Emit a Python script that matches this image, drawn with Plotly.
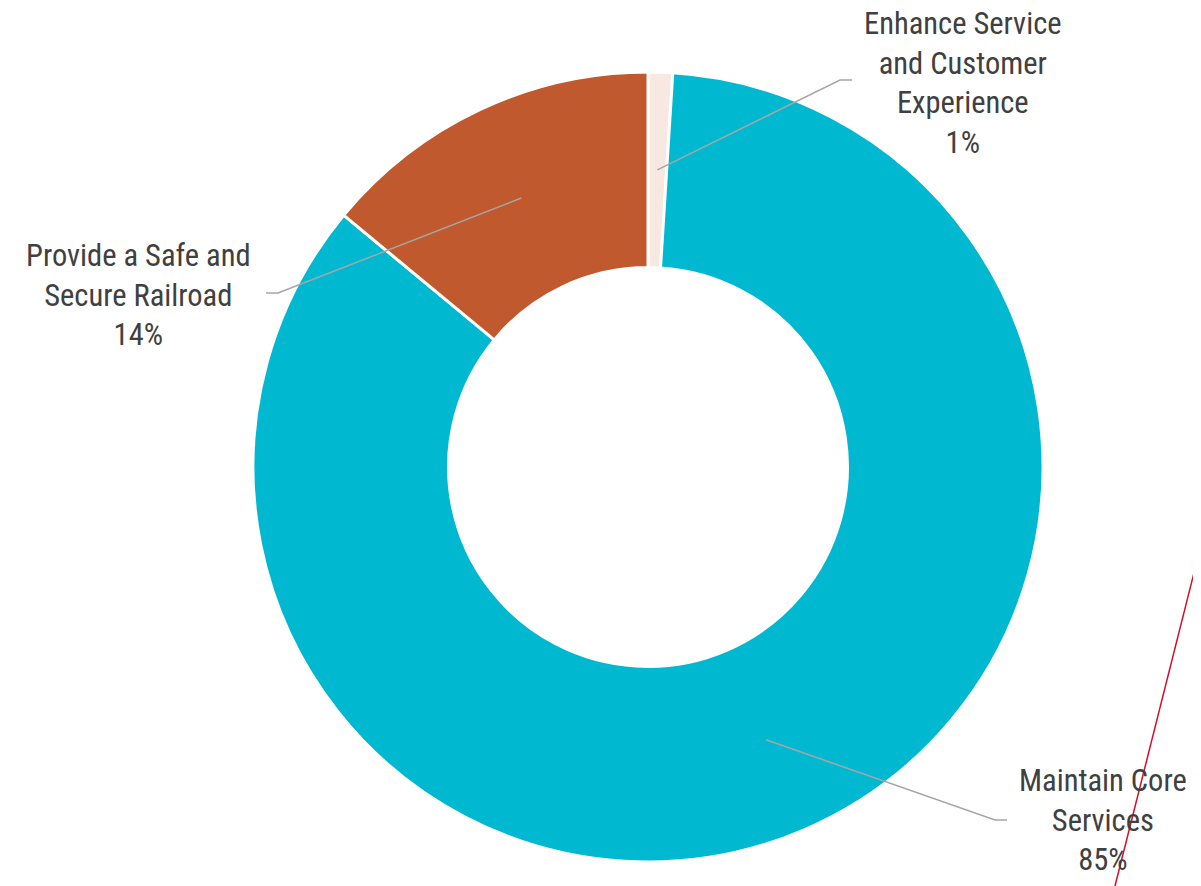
import math
import plotly.graph_objects as go

labels = ["Enhance Service and Customer Experience", "Maintain Core Services", "Provide a Safe and Secure Railroad"]
label_text = ["Enhance Service<br>and Customer<br>Experience<br>1%",
              "Maintain Core<br>Services<br>85%",
              "Provide a Safe and<br>Secure Railroad<br>14%"]
values = [1, 85, 14]
colors = ["#F7E8E2", "#00B9D1", "#C0592D"]

OFF = 8  # page body margin
W, H = 1201 - OFF, 886 - OFF

def px(x, y):
    return (x - OFF) / W, 1 - (y - OFF) / H

# donut geometry in screen pixels
CX, CY, RO = 648, 467, 395
hole = 0.505
x0d, y1d = px(CX - RO, CY - RO)
x1d, y0d = px(CX + RO, CY + RO)
dom_x = [x0d, x1d]
dom_y = [y0d, y1d]

label_pos = [(963, 83), (1103, 820), (138, 295)]
elbow = [((840, 80), (852, 80)), ((995, 820), (1007, 820)), ((278, 293), (266, 293))]

fig = go.Figure(go.Pie(
    labels=labels, values=values, sort=False, direction="clockwise", rotation=0,
    hole=hole, textinfo="none", hoverinfo="label+percent",
    marker=dict(colors=colors, line=dict(color="white", width=3)),
    domain=dict(x=dom_x, y=dom_y), showlegend=False,
))

rmid = RO * (1 + hole) / 2
total = sum(values)

shapes = []
annotations = []
cum = 0
for i, v in enumerate(values):
    mid = (cum + v / 2) / total * 2 * math.pi
    cum += v
    ax = CX + rmid * math.sin(mid)
    ay = CY - rmid * math.cos(mid)
    (ex, ey), (fx, fy) = elbow[i]
    a0, b0 = px(ax, ay)
    a1, b1 = px(ex, ey)
    a2, b2 = px(fx, fy)
    shapes.append(dict(type="path", xref="paper", yref="paper",
                       path=f"M {a0},{b0} L {a1},{b1} L {a2},{b2}",
                       line=dict(color="#A6A6A6", width=1.5)))
    lx, ly = px(*label_pos[i])
    annotations.append(dict(x=lx, y=ly, xref="paper", yref="paper", text=label_text[i],
                            showarrow=False, xanchor="center", yanchor="middle", align="center",
                            borderpad=0,
                            font=dict(size=30.5, color="#404040",
                                      family="Roboto Condensed, Liberation Sans Narrow, Roboto, sans-serif")))

# stray red line present in the reference
rx0, ry0 = px(1201, 545)
rx1, ry1 = px(1115, 886)
shapes.append(dict(type="line", xref="paper", yref="paper", x0=rx0, y0=ry0, x1=rx1, y1=ry1,
                   line=dict(color="#D0112B", width=1.5)))

fig.update_layout(width=W, height=H, margin=dict(l=0, r=0, t=0, b=0),
                  paper_bgcolor="white", plot_bgcolor="white",
                  shapes=shapes, annotations=annotations)

fig.write_html("out.html")
